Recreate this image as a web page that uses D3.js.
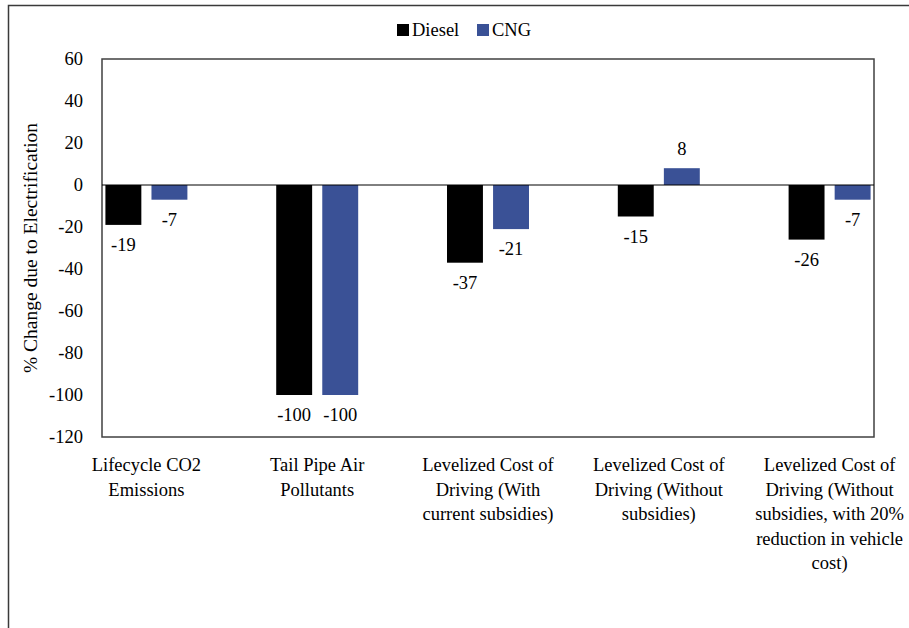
<!DOCTYPE html>
<html>
<head>
<meta charset="utf-8">
<script src="https://cdn.jsdelivr.net/npm/d3@7"></script>
<style>
  body { margin: 0; background: #fff; }
  text { font-family: "Liberation Serif", "Times New Roman", serif; fill: #000; }
</style>
</head>
<body>
<div id="chart"></div>
<script>
const width = 909
const height = 628
const margin = {top: 59, bottom: 191, left: 102, right: 35}
const fontSize = "18.5px"

// datos
const categories = ["Lifecycle CO2 Emissions", "Tail Pipe Air Pollutants", "Levelized Cost of Driving (With current subsidies)", "Levelized Cost of Driving (Without subsidies)", "Levelized Cost of Driving (Without subsidies, with 20% reduction in vehicle cost)"]
const categoryLines = [
    ["Lifecycle CO2", "Emissions"],
    ["Tail Pipe Air", "Pollutants"],
    ["Levelized Cost of", "Driving (With", "current subsidies)"],
    ["Levelized Cost of", "Driving (Without", "subsidies)"],
    ["Levelized Cost of", "Driving (Without", "subsidies, with 20%", "reduction in vehicle", "cost)"]
]
const series = ["Diesel", "CNG"]
const diesel = [-19, -100, -37, -15, -26]
const cng = [-7, -100, -21, 8, -7]
const yTicks = [60, 40, 20, 0, -20, -40, -60, -80, -100, -120]
const colors = {Diesel: "#000000", CNG: "#3a5196"}

const data = categories.map((c, i) => ({category: c, values: [{key: "Diesel", value: diesel[i]}, {key: "CNG", value: cng[i]}]}))

const svg = d3.select("#chart").append("svg").attr("width", width).attr("height", height)

// marco exterior
svg.append("path")
    .attr("d", `M8.5,${height} L8.5,5.5 L${width},5.5`)
    .attr("fill", "none")
    .attr("stroke", "#3a3a3a")
    .attr("stroke-width", 1.5)

const x0 = d3.scaleBand().domain(categories).range([margin.left, width - margin.right]).paddingInner(0.52).paddingOuter(0.02)
const x1 = d3.scaleBand().domain(series).range([0, x0.bandwidth()]).paddingInner(0.22)
const y = d3.scaleLinear().domain([-120, 60]).range([height - margin.bottom, margin.top])

// caja del area de grafico
svg.append("rect")
    .attr("x", margin.left)
    .attr("y", margin.top)
    .attr("width", width - margin.left - margin.right)
    .attr("height", height - margin.top - margin.bottom)
    .attr("fill", "none")
    .attr("stroke", "#404040")
    .attr("stroke-width", 1.5)

// eje y (guion normal, no signo menos unicode)
const yAxis = d3.axisLeft(y).tickValues(yTicks).tickFormat(d => String(d)).tickSize(0).tickPadding(19)
const yAxisGroup = svg.append("g").attr("transform", `translate(${margin.left}, 0)`).call(yAxis)
yAxisGroup.select(".domain").remove()
yAxisGroup.selectAll("text").style("font-size", fontSize).style("font-family", "Liberation Serif")

svg.append("text")
    .attr("transform", `translate(37, ${(margin.top + height - margin.bottom) / 2}) rotate(-90)`)
    .attr("text-anchor", "middle")
    .style("font-size", "19.5px")
    .text("% Change due to Electrification")

// barras
const groups = svg.append("g").selectAll("g").data(data).join("g")
    .attr("transform", d => `translate(${x0(d.category)}, 0)`)

groups.selectAll("rect").data(d => d.values).join("rect")
    .attr("x", d => x1(d.key))
    .attr("width", x1.bandwidth())
    .attr("y", d => y(Math.max(0, d.value)))
    .attr("height", d => Math.abs(y(d.value) - y(0)))
    .attr("fill", d => colors[d.key])

groups.selectAll("text.value").data(d => d.values).join("text")
    .attr("class", "value")
    .attr("x", d => x1(d.key) + x1.bandwidth() / 2)
    .attr("y", d => d.value < 0 ? y(d.value) + 26 : y(d.value) - 13)
    .attr("text-anchor", "middle")
    .style("font-size", fontSize)
    .text(d => d.value)

// linea de cero
svg.append("line")
    .attr("x1", margin.left)
    .attr("x2", width - margin.right)
    .attr("y1", y(0))
    .attr("y2", y(0))
    .attr("stroke", "#000")
    .attr("stroke-width", 1)

// etiquetas del eje x
const xLabels = svg.append("g").selectAll("text").data(categories).join("text")
    .attr("text-anchor", "middle")
    .attr("x", d => x0(d) + x0.bandwidth() / 2)
    .attr("y", 471)
    .style("font-size", fontSize)

xLabels.selectAll("tspan").data((d, i) => categoryLines[i]).join("tspan")
    .attr("x", function() { return d3.select(this.parentNode).attr("x") })
    .attr("dy", (d, i) => i === 0 ? 0 : 24.5)
    .text(d => d)

// leyenda
const legend = svg.append("g").attr("transform", "translate(397, 24)")
const legendX = [0, 80]
series.forEach((s, i) => {
    legend.append("rect")
        .attr("x", legendX[i])
        .attr("y", 0)
        .attr("width", 12)
        .attr("height", 12)
        .attr("fill", colors[s])
    legend.append("text")
        .attr("x", legendX[i] + 15)
        .attr("y", 11.5)
        .style("font-size", fontSize)
        .text(s)
})
</script>
</body>
</html>
